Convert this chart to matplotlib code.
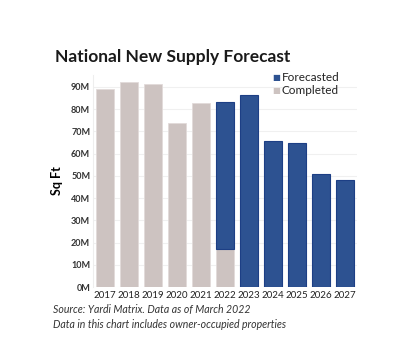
import numpy as np
import matplotlib
matplotlib.use("Agg")
import matplotlib.pyplot as plt

years = ["2017", "2018", "2019", "2020", "2021", "2022", "2023", "2024", "2025", "2026", "2027"]
completed = [88.8, 92.0, 91.2, 73.8, 82.8, 17.3, 0, 0, 0, 0, 0]
forecasted = [0, 0, 0, 0, 0, 65.9, 86.2, 65.7, 64.9, 51.0, 48.0]
yticks = [0, 10, 20, 30, 40, 50, 60, 70, 80, 90]
ytick_labels = ["0M", "10M", "20M", "30M", "40M", "50M", "60M", "70M", "80M", "90M"]

gray = "#cdc3c1"
blue = "#2d5291"
plt.rcParams["font.family"] = ["Lato", "DejaVu Sans"]

fig = plt.figure(figsize=(4, 3.58), dpi=100)
ax = fig.add_axes([0.2325, 0.198, 0.66, 0.5925])

x = np.arange(len(years))
c = np.array(completed)
f = np.array(forecasted)
ax.bar(x[c > 0], c[c > 0], width=0.75, color=gray, edgecolor="#e2dbda", linewidth=0.6, zorder=2)
ax.bar(x[f > 0], f[f > 0], bottom=c[f > 0], width=0.75, color=blue, edgecolor="#1d3f85", linewidth=0.8, zorder=2)

ax.set_xlim(-0.5, len(years) - 0.5)
ax.set_ylim(0, 95.3)
ax.set_xticks(x)
ax.set_xticklabels(years, fontsize=7, color="#222222")
ax.set_yticks(yticks)
ax.set_yticklabels(ytick_labels, fontsize=6.5, color="#333333", fontweight="bold")
ax.tick_params(length=0, pad=3)
ax.tick_params(axis="y", pad=2)
ax.grid(axis="y", color="#f0f0f0", linewidth=0.8, zorder=0)
for s in ["top", "right", "bottom"]:
    ax.spines[s].set_visible(False)
ax.spines["left"].set_color("#eeeeee")
ax.set_ylabel("Sq Ft", fontsize=9, fontweight="bold", labelpad=6)

fig.text(0.137, 0.827, "National New Supply Forecast", fontsize=12.5, fontweight="bold", color="#1a1a1a")

# legend
fig.text(0.68, 0.783, "\u25a0", fontsize=6, color=blue, va="center")
fig.text(0.705, 0.783, "Forecasted", fontsize=8.5, color="#222222", va="center")
fig.text(0.68, 0.747, "\u25a0", fontsize=6, color=gray, va="center")
fig.text(0.705, 0.747, "Completed", fontsize=8.5, color="#222222", va="center")

fig.text(0.133, 0.127, "Source: Yardi Matrix. Data as of March 2022", fontsize=7.6, style="italic", color="#333333")
fig.text(0.133, 0.085, "Data in this chart includes owner-occupied properties", fontsize=7.6, style="italic", color="#333333")

fig.savefig("out.png", dpi=100, facecolor="white")
